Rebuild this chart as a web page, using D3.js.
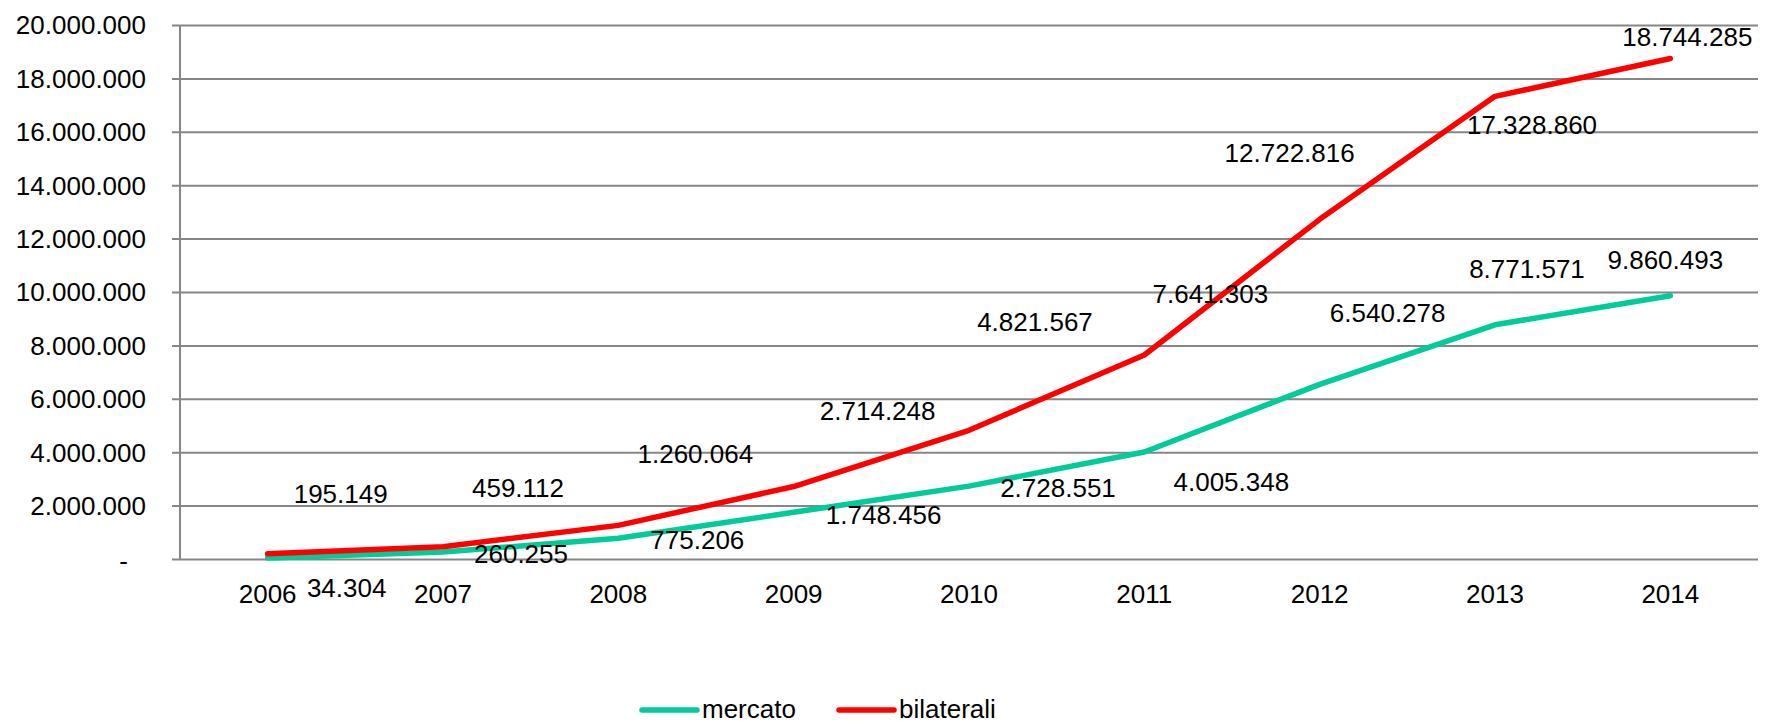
<!DOCTYPE html>
<html>
<head>
<meta charset="utf-8">
<script src="https://cdnjs.cloudflare.com/ajax/libs/d3/7.8.5/d3.min.js"></script>
<style>
  body { margin: 0; background: #fff; }
  svg text { font-family: "Liberation Sans", Arial, sans-serif; font-size: 26px; fill: #000; }
</style>
</head>
<body>
<svg width="1767" height="722"></svg>
<script>
// data
var years = ["2006", "2007", "2008", "2009", "2010", "2011", "2012", "2013", "2014"];
var mercato = [34304, 260255, 775206, 1748456, 2728551, 4005348, 6540278, 8771571, 9860493];
var bilaterali = [195149, 459112, 1260064, 2714248, 4821567, 7641303, 12722816, 17328860, 18744285];
var yTicks = [0, 2000000, 4000000, 6000000, 8000000, 10000000, 12000000, 14000000, 16000000, 18000000, 20000000];

// hand placed data labels (offset from the point, px)
var mercatoLabelDx = [79, 78, 79, 90, 89, 87, 68, 32, -5];
var mercatoLabelDy = [30, 2, 1, 2, 1, 30, -72, -56, -36];
var bilateraliLabelDx = [73, 75, 77, 84, 66, 66, -30, 37, 17];
var bilateraliLabelDy = [-60, -59, -72, -76, -109, -61, -67, 28, -22];

var svg = d3.select("svg");
var margin = {left: 180, right: 9, top: 25, bottom: 163};
var width = +svg.attr("width"), height = +svg.attr("height");

var x = d3.scaleBand()
    .domain(years)
    .range([margin.left, width - margin.right]);

var y = d3.scaleLinear()
    .domain([0, 20000000])
    .range([height - margin.bottom, margin.top]);

var fmt = function(v) {
  if (v === 0) return "-";
  return d3.format(",")(v).replace(/,/g, ".");
};
var cx = function(d, i) { return x(years[i]) + x.bandwidth() / 2; };

// gridlines + y axis
var yAxis = d3.axisLeft(y)
    .tickValues(yTicks)
    .tickSize(-(width - margin.right - margin.left))
    .tickFormat("")
    .tickSizeOuter(0);

var gy = svg.append("g")
    .attr("transform", "translate(" + margin.left + ",0)")
    .call(yAxis);
gy.select(".domain").remove();
gy.selectAll(".tick line")
    .attr("x1", -8)
    .attr("stroke", "#868686")
    .attr("stroke-width", 2);

svg.append("line")
    .attr("x1", margin.left).attr("x2", margin.left)
    .attr("y1", y(20000000)).attr("y2", y(0))
    .attr("stroke", "#868686")
    .attr("stroke-width", 2);

// accounting style: zero shows as a dash, padded from the right
svg.append("g").selectAll("text")
    .data(yTicks)
  .enter().append("text")
    .attr("x", function(d) { return d === 0 ? 128 : 146; })
    .attr("y", function(d) { return d === 0 ? y(d) + 2 : y(d); })
    .attr("dy", "0.36em")
    .attr("text-anchor", "end")
    .text(fmt);

// x labels
svg.append("g").selectAll("text")
    .data(years)
  .enter().append("text")
    .attr("x", function(d) { return x(d) + x.bandwidth() / 2; })
    .attr("y", 603)
    .attr("text-anchor", "middle")
    .text(function(d) { return d; });

var line = d3.line()
    .x(cx)
    .y(function(d) { return y(d); });

var series = [
  {name: "mercato", values: mercato, color: "#00cc99", dx: mercatoLabelDx, dy: mercatoLabelDy},
  {name: "bilaterali", values: bilaterali, color: "#ff0000", dx: bilateraliLabelDx, dy: bilateraliLabelDy}
];

series.forEach(function(s) {
  svg.append("path")
      .datum(s.values)
      .attr("fill", "none")
      .attr("stroke", s.color)
      .attr("stroke-width", 5.5)
      .attr("stroke-linejoin", "round")
      .attr("stroke-linecap", "round")
      .attr("d", line);
});

series.forEach(function(s) {
  svg.append("g").selectAll("text")
      .data(s.values)
    .enter().append("text")
      .attr("x", function(d, i) { return cx(d, i) + s.dx[i]; })
      .attr("y", function(d, i) { return y(d) + s.dy[i]; })
      .attr("dy", "0.36em")
      .attr("text-anchor", "middle")
      .text(fmt);
});

// legend
var legend = svg.append("g").selectAll("g")
    .data(series)
  .enter().append("g")
    .attr("transform", function(d, i) { return "translate(" + (642 + i * 197) + ",710)"; });

legend.append("line")
    .attr("x1", 0).attr("x2", 55)
    .attr("stroke", function(d) { return d.color; })
    .attr("stroke-width", 5.5)
    .attr("stroke-linecap", "round");

legend.append("text")
    .attr("x", 60)
    .attr("y", 8)
    .text(function(d) { return d.name; });
</script>
</body>
</html>
